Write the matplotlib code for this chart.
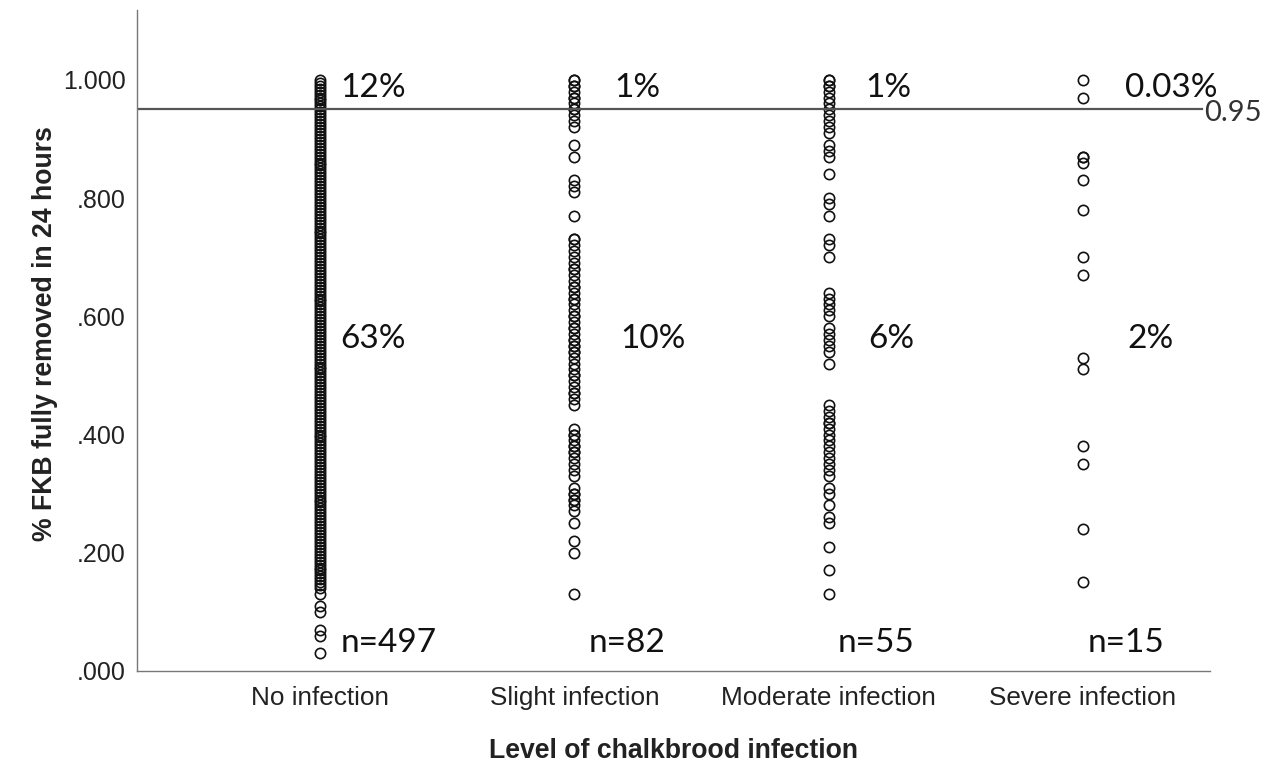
import numpy as np
import matplotlib
matplotlib.use("Agg")
import matplotlib.pyplot as plt

categories = ["No infection", "Slight infection", "Moderate infection", "Severe infection"]

no_infection = [0.030, 0.060, 0.070, 0.100, 0.110, 0.130,
                0.140, 0.145, 0.150, 0.155, 0.160, 0.165, 0.170, 0.175, 0.180, 0.185,
                0.190, 0.195, 0.200, 0.205, 0.210, 0.215, 0.220, 0.225, 0.230, 0.235,
                0.240, 0.245, 0.250, 0.255, 0.260, 0.265, 0.270, 0.275, 0.280, 0.285,
                0.290, 0.295, 0.300, 0.305, 0.310, 0.315, 0.320, 0.325, 0.330, 0.335,
                0.340, 0.345, 0.350, 0.355, 0.360, 0.365, 0.370, 0.375, 0.380, 0.385,
                0.390, 0.395, 0.400, 0.405, 0.410, 0.415, 0.420, 0.425, 0.430, 0.435,
                0.440, 0.445, 0.450, 0.455, 0.460, 0.465, 0.470, 0.475, 0.480, 0.485,
                0.490, 0.495, 0.500, 0.505, 0.510, 0.515, 0.520, 0.525, 0.530, 0.535,
                0.540, 0.545, 0.550, 0.555, 0.560, 0.565, 0.570, 0.575, 0.580, 0.585,
                0.590, 0.595, 0.600, 0.605, 0.610, 0.615, 0.620, 0.625, 0.630, 0.635,
                0.640, 0.645, 0.650, 0.655, 0.660, 0.665, 0.670, 0.675, 0.680, 0.685,
                0.690, 0.695, 0.700, 0.705, 0.710, 0.715, 0.720, 0.725, 0.730, 0.735,
                0.740, 0.745, 0.750, 0.755, 0.760, 0.765, 0.770, 0.775, 0.780, 0.785,
                0.790, 0.795, 0.800, 0.805, 0.810, 0.815, 0.820, 0.825, 0.830, 0.835,
                0.840, 0.845, 0.850, 0.855, 0.860, 0.865, 0.870, 0.875, 0.880, 0.885,
                0.890, 0.895, 0.900, 0.905, 0.910, 0.915, 0.920, 0.925, 0.930, 0.935,
                0.940, 0.945, 0.950, 0.955, 0.960, 0.965, 0.970, 0.975, 0.980, 0.985,
                0.990, 0.995, 1.000]

slight = [1.00, 1.00, 0.99, 0.99, 0.98, 0.97, 0.96, 0.95, 0.95, 0.94, 0.93, 0.92,
          0.89, 0.87, 0.83, 0.82, 0.81, 0.77,
          0.73, 0.73, 0.72, 0.71, 0.70, 0.69, 0.68, 0.68, 0.67, 0.66, 0.65, 0.65,
          0.64, 0.63, 0.62, 0.61, 0.60, 0.60, 0.59, 0.58, 0.57, 0.56, 0.55, 0.55,
          0.54, 0.53, 0.52, 0.51, 0.50, 0.50, 0.49, 0.48, 0.47, 0.47, 0.46, 0.45,
          0.41, 0.40, 0.40, 0.39, 0.38, 0.37, 0.37, 0.36, 0.35, 0.34, 0.33,
          0.31, 0.30, 0.30, 0.29, 0.28, 0.27, 0.25,
          0.22, 0.20, 0.13,
          0.63, 0.58, 0.54, 0.38, 0.29, 0.97, 0.56]

moderate = [1.00, 1.00, 0.99, 0.99, 0.98, 0.97, 0.96, 0.95, 0.94, 0.93,
            0.92, 0.91, 0.89, 0.88, 0.87, 0.84,
            0.80, 0.79, 0.77, 0.73, 0.72, 0.70,
            0.64, 0.63, 0.62, 0.61, 0.60, 0.58, 0.57, 0.56, 0.55, 0.54, 0.52,
            0.45, 0.44, 0.43, 0.42, 0.42, 0.41, 0.40,
            0.39, 0.38, 0.37, 0.36, 0.35, 0.34, 0.33, 0.31, 0.30,
            0.28, 0.26, 0.25, 0.21, 0.17, 0.13]

severe = [1.00, 0.97, 0.87, 0.87, 0.86, 0.83, 0.78, 0.70, 0.67,
          0.53, 0.51, 0.38, 0.35, 0.24, 0.15]

series = [no_infection, slight, moderate, severe]

top_pct = ["12%", "1%", "1%", "0.03%"]
mid_pct = ["63%", "10%", "6%", "2%"]
n_labels = ["n=497", "n=82", "n=55", "n=15"]
ref_value = 0.95
yticks = [0.0, 0.2, 0.4, 0.6, 0.8, 1.0]
ytick_labels = [".000", ".200", ".400", ".600", ".800", "1.000"]

W, H = 1285, 763
fig = plt.figure(figsize=(W / 100, H / 100), dpi=100)
ax = fig.add_axes([137 / W, 1 - 671 / H, (1210 - 137) / W, (671 - 10) / H])

for i, vals in enumerate(series):
    x = np.full(len(vals), i + 1)
    ax.plot(x, vals, linestyle="none", marker="o", markersize=7.4,
            markerfacecolor="none", markeredgecolor="#111111", markeredgewidth=1.2)

ax.set_xlim(0.28, 4.5)
ax.set_ylim(0, 1.118)

ax.axhline(ref_value, color="#555555", linewidth=1.6, xmax=(1202 - 137) / (1210 - 137))
ax.text(4.475, ref_value - 0.006, "0.95", fontsize=21, color="#333333", va="center",
        ha="left", family="Lato")

pfont = dict(fontsize=24, family="Lato", color="#111111", va="center", ha="left")
top_dx = [0.079, 0.157, 0.146, 0.165]
mid_dx = [0.079, 0.181, 0.154, 0.177]
n_dx = [0.079, 0.055, 0.035, 0.020]
for i in range(4):
    ax.text(i + 1 + top_dx[i], 0.986, top_pct[i], **pfont)
    ax.text(i + 1 + mid_dx[i], 0.562, mid_pct[i], **pfont)
    ax.text(i + 1 + n_dx[i], 0.047, n_labels[i], **pfont)

ax.set_xticks(range(1, 5))
ax.set_xticklabels(categories, fontsize=18.8, family="Liberation Sans", color="#222222")
ax.set_yticks(yticks)
ax.set_yticklabels(ytick_labels, fontsize=18, family="Liberation Sans", color="#222222")
ax.tick_params(length=0, pad=8)
ax.tick_params(axis="x", pad=11)

for s in ["top", "right"]:
    ax.spines[s].set_visible(False)
for s in ["left", "bottom"]:
    ax.spines[s].set_color("#777777")
    ax.spines[s].set_linewidth(1.0)

ax.set_xlabel("Level of chalkbrood infection", fontsize=19.2, fontweight="bold",
              family="Liberation Sans", color="#222222", labelpad=20)
ax.set_ylabel("% FKB fully removed in 24 hours", fontsize=19.2, fontweight="bold",
              family="Liberation Sans", color="#222222")
ax.yaxis.set_label_coords(-0.074, 0.51)

fig.savefig("out.png", dpi=100)
